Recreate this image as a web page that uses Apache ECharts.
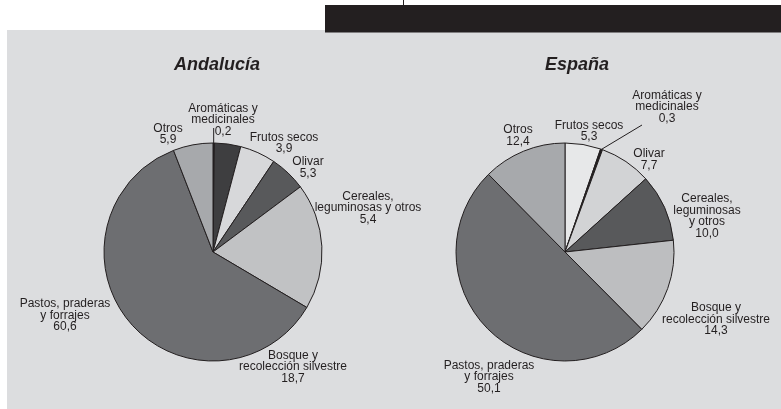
<!DOCTYPE html>
<html><head><meta charset="utf-8">
<script src="https://cdn.jsdelivr.net/npm/echarts@6/dist/echarts.min.js"></script>
<style>html,body{margin:0;padding:0;background:#fff}#c{width:781px;height:409px}</style>
</head><body><div id="c"></div>
<script>
// ---- data ----
const titles = ['Andalucía', 'España'];
const categoriesAnd = ['Aromáticas y\nmedicinales', 'Frutos secos', 'Olivar', 'Cereales,\nleguminosas y otros', 'Bosque y\nrecolección silvestre', 'Pastos, praderas\ny forrajes', 'Otros'];
const valuesAnd = [0.2, 3.9, 5.3, 5.4, 18.7, 60.6, 5.9];
const categoriesEsp = ['Frutos secos', 'Aromáticas y\nmedicinales', 'Olivar', 'Cereales,\nleguminosas\ny otros', 'Bosque y\nrecolección silvestre', 'Pastos, praderas\ny forrajes', 'Otros'];
const valuesEsp = [5.3, 0.3, 7.7, 10.0, 14.3, 50.1, 12.4];

// ---- styles / layout ----
const colorsAnd = ['#231f20', '#3e3e40', '#d7d8da', '#58595b', '#c1c2c4', '#6d6e71', '#a7a9ac'];
const colorsEsp = ['#e7e8e9', '#231f20', '#d2d3d5', '#58595b', '#bdbec0', '#6d6e71', '#a7a9ac'];
const centers = [[213, 252], [565, 252]];
const R = 109;
// label centre offsets relative to pie centre
const offAnd = [[10, -132], [71, -109], [95, -84.5], [155, -44], [80, 115], [-148, 63.5], [-45, -118]];
const offEsp = [[24, -121], [102, -145], [84, -92.5], [142, -36], [151, 67.5], [-76, 125], [-47, -116.5]];
const leaderIdx = [0, 1];           // index of the item with a leader line in each pie
const leaderEnd = [[0, -124], [77, -127]];
const ink = '#231f20';
const font = "'Liberation Sans', Arial, sans-serif";

function fmt(v) { return v.toFixed(1).replace('.', ','); }

function edgePoint(values, idx, c) {
  const total = values.reduce((a, b) => a + b, 0);
  let cum = 0;
  for (let i = 0; i < idx; i++) cum += values[i];
  const frac = (cum + values[idx] / 2) / total;
  const ang = (90 - 360 * frac) * Math.PI / 180;
  return [c[0] + R * Math.cos(ang), c[1] - R * Math.sin(ang)];
}

function leaderLine(k, vals) {
  const c = centers[k];
  const s = edgePoint(vals, leaderIdx[k], c);
  const ex = k === 0 ? s[0] : c[0] + leaderEnd[k][0];
  const e = [ex, c[1] + leaderEnd[k][1]];
  return { type: 'line', z: 100, shape: { x1: s[0], y1: s[1], x2: e[0], y2: e[1] }, style: { stroke: ink, lineWidth: 1 } };
}

function makeSeries(k, cats, vals, cols, offs) {
  const c = centers[k];
  return {
    type: 'pie',
    center: c,
    radius: R,
    startAngle: 90,
    clockwise: true,
    avoidLabelOverlap: false,
    animation: false,
    silent: true,
    itemStyle: { borderColor: ink, borderWidth: 1 },
    label: {
      show: true,
      position: 'outside',
      color: ink,
      fontFamily: font,
      fontSize: 12,
      lineHeight: 11.5,
      align: 'center',
      formatter: p => p.name + '\n' + fmt(p.value)
    },
    labelLine: { show: false },
    labelLayout: function (p) {
      const i = p.dataIndex;
      return {
        x: c[0] + offs[i][0],
        y: c[1] + offs[i][1],
        align: 'center',
        verticalAlign: 'middle'
      };
    },
    data: cats.map((n, i) => ({
      name: n,
      value: vals[i],
      itemStyle: { color: cols[i] }
    }))
  };
}

const chart = echarts.init(document.getElementById('c'), null, { renderer: 'canvas' });
chart.setOption({
  backgroundColor: '#ffffff',
  animation: false,
  graphic: { elements: [
    { type: 'rect', z: -20, shape: { x: 7, y: 30, width: 774, height: 379 }, style: { fill: '#dcdddf' } },
    { type: 'rect', z: -10, shape: { x: 325, y: 5, width: 456, height: 27.5 }, style: { fill: ink } },
    { type: 'line', z: -10, shape: { x1: 403.5, y1: 0, x2: 403.5, y2: 5 }, style: { stroke: ink, lineWidth: 1 } },
    leaderLine(0, valuesAnd),
    leaderLine(1, valuesEsp)
  ]},
  title: titles.map((t, k) => ({
    text: t,
    left: k === 0 ? 217 : 577,
    top: 56,
    textAlign: 'center',
    padding: 0,
    textStyle: { fontFamily: font, fontSize: 18, fontWeight: 'bold', fontStyle: 'italic', color: ink }
  })),
  series: [
    makeSeries(0, categoriesAnd, valuesAnd, colorsAnd, offAnd),
    makeSeries(1, categoriesEsp, valuesEsp, colorsEsp, offEsp)
  ]
});
</script>
</body></html>
